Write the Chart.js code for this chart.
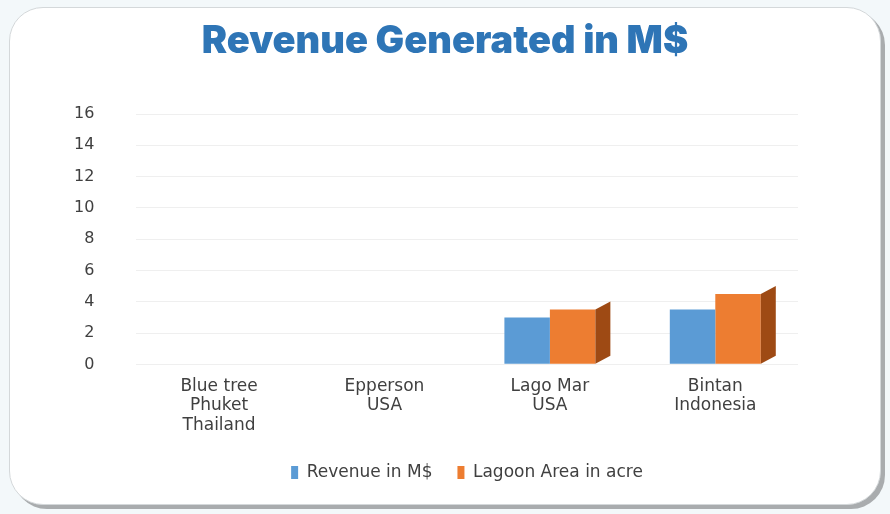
<!DOCTYPE html>
<html>
<head>
<meta charset="utf-8">
<script src="https://cdn.jsdelivr.net/npm/chart.js@4"></script>
<style>
    html, body { margin: 0; padding: 0; background: #f3f8fa; }
    .card {
        position: absolute;
        left: 9px; top: 7px; width: 870px; height: 496px;
        background: #ffffff;
        border: 1px solid #d4d8da;
        border-radius: 34px;
        box-shadow: 4px 4px 0 #a9acae;
    }
    .card canvas { position: absolute; left: 0; top: 0; }
    .card h1 {
        position: absolute;
        left: 0; right: 0; top: 8px;
        margin: 0;
        text-align: center;
        font-family: Inter, sans-serif;
        font-weight: 900;
        font-size: 38px;
        color: #2e75b6;
        line-height: 46px;
    }
</style>
</head>
<body>
<div class="card">
    <canvas id="revenueChart" width="870" height="496"></canvas>
    <h1>Revenue Generated in M$</h1>
</div>
<script>
// chart data
const locations = [
    ['Blue tree', 'Phuket', 'Thailand'],
    ['Epperson', 'USA'],
    ['Lago Mar', 'USA'],
    ['Bintan', 'Indonesia']
];
const revenueValues = [0, 0, 3, 3.5];
const lagoonValues = [0, 0, 3.5, 4.5];
const yTicks = [0, 2, 4, 6, 8, 10, 12, 14, 16];

const textColor = '#404040';
const labelFont = 'DejaVu Sans';

// fake 3d: darker right face on the orange columns
const sideFace = {
    id: 'sideFace',
    afterDatasetsDraw(chart) {
        const ctx = chart.ctx;
        const meta = chart.getDatasetMeta(1);
        meta.data.forEach(bar => {
            if (bar.base - bar.y < 1) return;
            const right = bar.x + bar.width / 2;
            const d = 15;
            ctx.save();
            ctx.fillStyle = '#9e4a14';
            ctx.beginPath();
            ctx.moveTo(right, bar.y);
            ctx.lineTo(right + d, bar.y - 8);
            ctx.lineTo(right + d, bar.base - 8);
            ctx.lineTo(right, bar.base);
            ctx.closePath();
            ctx.fill();
            ctx.restore();
        });
    }
};

// the legend in the original sits right of the card centre
const legendShift = {
    id: 'legendShift',
    afterLayout(chart) {
        chart.legend.left += 52;
        chart.legend.right += 52;
    }
};

new Chart(document.getElementById('revenueChart').getContext('2d'), {
    type: 'bar',
    data: {
        labels: locations,
        datasets: [{
            label: 'Revenue in M$',
            data: revenueValues,
            backgroundColor: '#5b9bd5',
            borderWidth: 0
        }, {
            label: 'Lagoon Area in acre',
            data: lagoonValues,
            backgroundColor: '#ed7d31',
            borderWidth: 0
        }]
    },
    options: {
        responsive: false,
        animation: false,
        categoryPercentage: 0.55,
        barPercentage: 1,
        layout: {
            padding: { left: 22, right: 82, top: 106, bottom: 13 }
        },
        plugins: {
            legend: {
                position: 'bottom',
                labels: {
                    color: textColor,
                    font: { family: labelFont, size: 17 },
                    boxWidth: 7,
                    boxHeight: 13,
                    padding: 25
                }
            },
            tooltip: { enabled: false }
        },
        scales: {
            x: {
                grid: { display: false },
                border: { display: false },
                ticks: {
                    color: textColor,
                    font: { family: labelFont, size: 17, lineHeight: 1.15 },
                    padding: 4
                }
            },
            y: {
                min: yTicks[0],
                max: yTicks[yTicks.length - 1],
                afterBuildTicks: axis => {
                    axis.ticks = yTicks.map(v => ({ value: v }));
                },
                grid: { color: '#efefef', drawTicks: false },
                border: { display: false },
                ticks: {
                    color: textColor,
                    font: { family: labelFont, size: 16 },
                    padding: 42
                }
            }
        }
    },
    plugins: [sideFace, legendShift]
});
</script>
</body>
</html>
